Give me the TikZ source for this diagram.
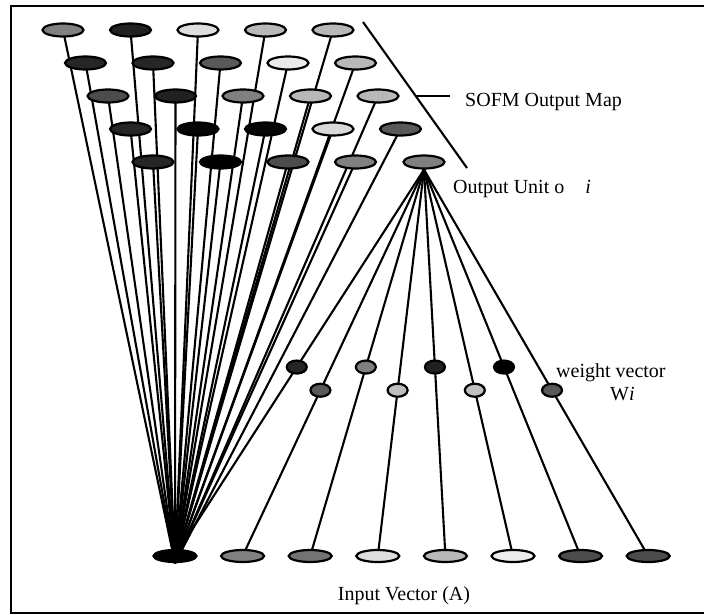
\documentclass[tikz,border=0pt]{standalone}
\usepackage{fontspec}
\setmainfont{Liberation Serif}
\usetikzlibrary{calc,backgrounds,shapes.geometric}
\begin{document}
\begin{tikzpicture}[x=1pt,y=-1pt,
  txt/.style={font=\fontsize{20}{24}\selectfont,inner sep=0pt},
  unit/.style={ellipse,draw=black,line width=2.2pt,minimum width=41pt,minimum height=13pt,inner sep=0pt},
  inp/.style={ellipse,draw=black,line width=2.2pt,minimum width=43pt,minimum height=12pt,inner sep=0pt},
  wt/.style={ellipse,draw=black,line width=2.2pt,minimum width=20pt,minimum height=13pt,inner sep=0pt},
  conn/.style={draw=black,line width=2.1pt},
  frame/.style={draw=black,line width=2.4pt}]
\useasboundingbox (0,0) rectangle (704,615);
\draw[frame] (11,6) rectangle (714,613);

% SOFM output map grid
\foreach \d [count=\k from 0] in {50,87,13,28,28, 85,85,65,8,28, 70,87,50,28,28, 85,98,98,15,65, 85,100,70,50}{
  \pgfmathtruncatemacro\r{int(\k/5)}
  \pgfmathtruncatemacro\c{mod(\k,5)}
  \node[unit,fill=black!\d] (u\r\c) at (63+22.5*\r+67.5*\c,30+33*\r) {};
}
\node[unit,fill=black!50] (oi) at (424,162) {};

% input vector
\foreach \d [count=\i] in {100,50,55,13,28,7,70,70}{
  \node[inp,fill=black!\d] (in\i) at (175+67.6*\i-67.6,556) {};
}

% weight vector
\foreach \d [count=\i] in {85,65,50,25,87,25,100,65}{
  \pgfmathsetmacro\t{ifthenelse(mod(\i,2)==1,0.511,0.571)}
  \node[wt,fill=black!\d] (w\i) at ($(oi.south)!\t!(in\i.center)$) {};
}

% connectors behind the nodes
\begin{scope}[on background layer]
  \foreach \k in {0,...,23}{
    \pgfmathtruncatemacro\r{int(\k/5)}
    \pgfmathtruncatemacro\c{mod(\k,5)}
    \draw[conn] (u\r\c.center) -- (in1.south);
  }
  \foreach \i in {1,...,8}{
    \draw[conn] (oi.south) -- (w\i.center) -- (in\i.center);
  }
\end{scope}

% map bracket line and labels
\coordinate (dA) at (363,22);
\coordinate (dB) at (467,168);
\coordinate (dM) at ($(dA)!0.507!(dB)$);
\draw[conn] (dA) -- (dB);
\node[txt,anchor=base west] (sofm) at (465,107) {SOFM Output Map};
\draw[conn] (dM) -- ([xshift=-15pt]sofm.west |- dM);

\node[txt,anchor=base west] (oilab) at (453,193) {Output Unit o\hspace{21pt}\textit{i}};
\node[txt,anchor=base west] (wlab1) at (556,377) {weight vector};
\node[txt,anchor=base west] (wlab2) at (610,400) {W\textit{i}};
\node[txt,anchor=base] (inlab) at (404,600) {Input Vector (A)};
\end{tikzpicture}
\end{document}
